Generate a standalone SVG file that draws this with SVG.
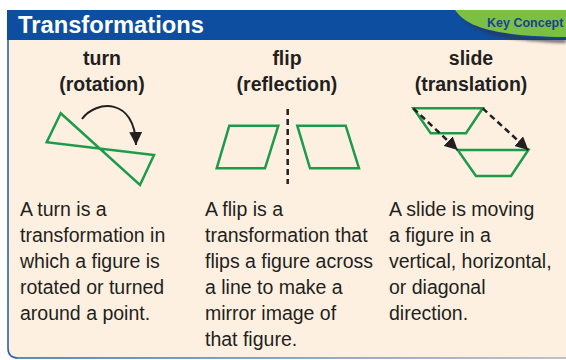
<svg xmlns="http://www.w3.org/2000/svg" width="566" height="360" viewBox="0 0 566 360">
  <defs>
    <style>
      .title { font-family: "Liberation Sans", Arial, sans-serif; font-weight: bold; font-size: 24px; fill: #ffffff; }
      .tab { font-family: "Liberation Sans", Arial, sans-serif; font-weight: bold; font-size: 12.5px; fill: #1b3f94; }
      .head { font-family: "Liberation Sans", Arial, sans-serif; font-weight: bold; font-size: 19.5px; fill: #231f20; text-anchor: middle; }
      .body { font-family: "Liberation Sans", Arial, sans-serif; font-size: 19.5px; fill: #231f20; }
      .fig { fill: none; stroke: #1e9b4a; stroke-width: 2.5; stroke-linejoin: miter; }
      .arc { fill: none; stroke: #231f20; stroke-width: 2; }
      .dash { fill: none; stroke: #231f20; stroke-width: 2.5; stroke-dasharray: 6 4; }
    </style>
    <marker id="ah" markerUnits="userSpaceOnUse" markerWidth="13" markerHeight="13" viewBox="0 0 12 12" refX="12" refY="6" orient="auto">
      <path d="M0,0 L12,6 L0,12 Z" fill="#231f20"/>
    </marker>
    <linearGradient id="bord" x1="0" y1="0" x2="1" y2="0">
      <stop offset="0" stop-color="#2a62b0"/>
      <stop offset="1" stop-color="#a8b0bc"/>
    </linearGradient>
    <filter id="blur" x="-10%" y="-50%" width="120%" height="200%">
      <feGaussianBlur stdDeviation="1.5"/>
    </filter>
  </defs>

  <!-- panel -->
  <g id="panel">
    <path d="M8,39 H566 V358 H18 Q8,358 8,348 Z" fill="#fdf0e1"/>
    <path d="M8,39 V348 Q8,358 18,358 H566" fill="none" stroke="url(#bord)" stroke-width="1.6"/>
  </g>

  <!-- header -->
  <g id="header">
    <rect x="7" y="10" width="559" height="30" fill="#0d4ea1"/>
    <path d="M460,12 C472,30 500,39 566,41" fill="none" stroke="#333344" stroke-width="4" opacity="0.7" filter="url(#blur)"/>
    <path d="M455,10 C466,26 490,36 566,37 L566,10 Z" fill="#7ac143"/>
    <text class="title" x="18" y="33" textLength="186" lengthAdjust="spacingAndGlyphs">Transformations</text>
    <text class="tab" x="487" y="27">Key Concept</text>
  </g>

  <!-- column headings -->
  <g id="turn-heading">
    <text class="head" x="102" y="65">turn</text>
    <text class="head" x="102" y="91">(rotation)</text>
  </g>
  <g id="flip-heading">
    <text class="head" x="287" y="65">flip</text>
    <text class="head" x="287" y="91">(reflection)</text>
  </g>
  <g id="slide-heading">
    <text class="head" x="471" y="65">slide</text>
    <text class="head" x="471" y="91">(translation)</text>
  </g>

  <!-- figures -->
  <g id="turn-figure">
    <polygon class="fig" points="60.7,113.3 140,185 154,155 46.7,142.3"/>
  </g>
  <g id="flip-figure">
    <polygon class="fig" points="229.3,125.7 278.3,125.7 265,168.3 216.7,168.3"/>
    <polygon class="fig" points="297.3,125.7 345.7,125.7 359,168.3 310,168.3"/>
  </g>
  <g id="slide-figure">
    <polygon class="fig" points="413.3,108.3 482.7,108.3 466,133.3 430.7,133.3"/>
    <polygon class="fig" points="457.7,150 528.3,150 511,176 476,176"/>
  </g>

  <!-- connectors -->
  <g id="connectors">
    <path class="arc" d="M82,119 C96,100 135,97 136,145" marker-end="url(#ah)"/>
    <line class="dash" x1="287.7" y1="109" x2="287.7" y2="184"/>
    <line class="dash" x1="413.3" y1="108.3" x2="457.7" y2="150" marker-end="url(#ah)"/>
    <line class="dash" x1="482.7" y1="108.3" x2="528.3" y2="150" marker-end="url(#ah)"/>
  </g>

  <!-- descriptions -->
  <g id="turn-text">
    <text class="body" x="20" y="216">A turn is a</text>
    <text class="body" x="20" y="242">transformation in</text>
    <text class="body" x="20" y="268">which a figure is</text>
    <text class="body" x="20" y="294">rotated or turned</text>
    <text class="body" x="20" y="320">around a point.</text>
  </g>
  <g id="flip-text">
    <text class="body" x="205" y="216">A flip is a</text>
    <text class="body" x="205" y="242">transformation that</text>
    <text class="body" x="205" y="268">flips a figure across</text>
    <text class="body" x="205" y="294">a line to make a</text>
    <text class="body" x="205" y="320">mirror image of</text>
    <text class="body" x="205" y="346">that figure.</text>
  </g>
  <g id="slide-text">
    <text class="body" x="389" y="216">A slide is moving</text>
    <text class="body" x="389" y="242">a figure in a</text>
    <text class="body" x="389" y="268">vertical, horizontal,</text>
    <text class="body" x="389" y="294">or diagonal</text>
    <text class="body" x="389" y="320">direction.</text>
  </g>
</svg>
